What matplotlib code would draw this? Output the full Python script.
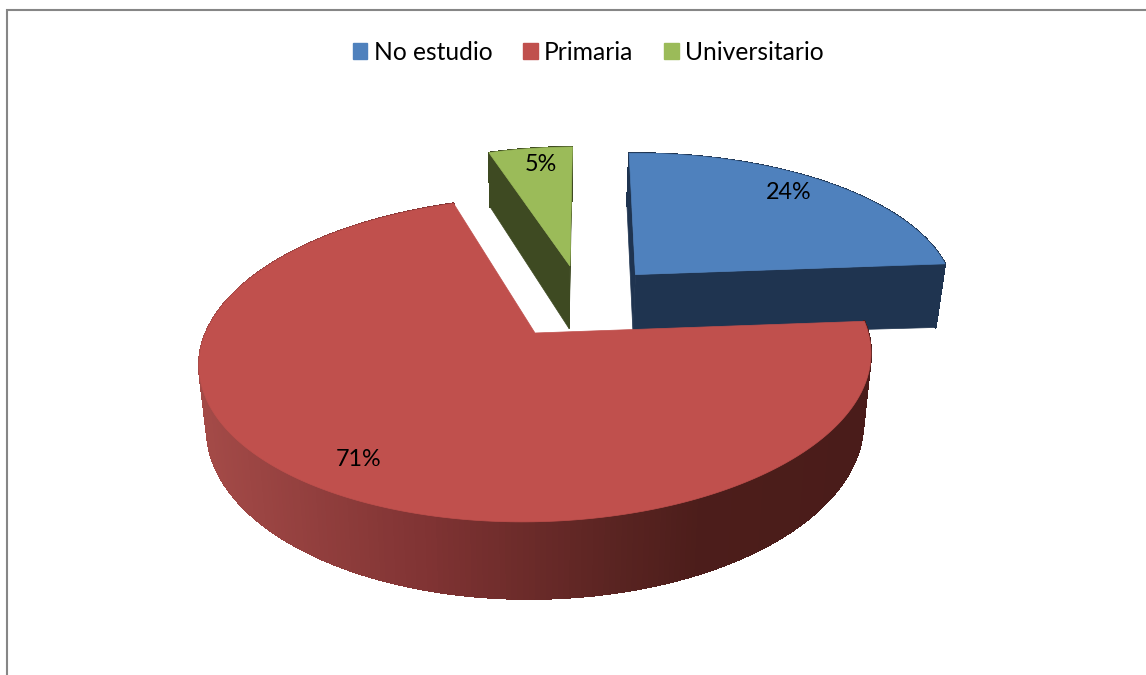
import numpy as np
import matplotlib
matplotlib.use('Agg')
import matplotlib.pyplot as plt
from matplotlib.collections import PolyCollection
from matplotlib.patches import Patch, Polygon, Rectangle

categories = ['No estudio', 'Primaria', 'Universitario']
values = [24, 71, 5]
colors = ['#4F81BD', '#C0504D', '#9BBB59']
side_colors = ['#1F3450', None, '#3E4A22']

# gradient of the red outer wall, x in pixels
wall_x = [205, 430, 620, 700, 865]
wall_rgb = [(0.64, 0.29, 0.28), (0.50, 0.20, 0.20), (0.35, 0.14, 0.13), (0.30, 0.115, 0.105), (0.29, 0.11, 0.10)]

plt.rcParams['font.family'] = ['Lato', 'DejaVu Sans']

# perspective of the 3d pie, fitted on the picture
cx, cy = 535, 333
a, b, k = 331.5, 158, 0.163
tilt_top, tilt_bottom = 6, 3
squeeze = 0.977
explode = 0.25
start = 1.5
depths = [64, 64.5, 67]
label_turn = [-2, -1.5, 1.2]


def top(x, y, depth=0):
    d = 1 + k * y
    return cx + a * x / d, cy - (b * y + tilt_top * x) / d


def bottom(x, y, depth=0):
    d = 1 + k * y
    return cx + squeeze * a * x / d, cy - (b * y + tilt_bottom * x) / d + depth / d


def face(fn, x, y, depth=0):
    px, py = fn(np.asarray(x, float), np.asarray(y, float), depth)
    return np.column_stack([px, py])


fig = plt.figure(figsize=(11.46, 6.75), dpi=100)
ax = fig.add_axes([0, 0, 1, 1])
ax.set_xlim(0, 1146)
ax.set_ylim(675, 0)
ax.axis('off')

# chart frame runs off the right and bottom of the image
ax.add_patch(Rectangle((6.5, 10), 1200, 700, fc='white', ec='#868686', lw=1.5))

fracs = np.array(values) / sum(values)
ends = np.cumsum(fracs) * 360 + start
starts = ends - fracs * 360
mids = np.radians((starts + ends) / 2)

# the big slice is the reference for the other offsets
ref = np.sin(mids[1]), np.cos(mids[1])

for i in [2, 0, 1]:
    ox = explode * (np.sin(mids[i]) - ref[0])
    oy = explode * (np.cos(mids[i]) - ref[1])
    th = np.radians(np.linspace(starts[i], ends[i], 300))
    rx = ox + np.sin(th)
    ry = oy + np.cos(th)

    if side_colors[i]:
        for j in [0, -1]:
            xs = [ox, rx[j]]
            ys = [oy, ry[j]]
            quad = np.vstack([face(top, xs, ys), face(bottom, xs, ys, depths[i])[::-1]])
            ax.add_patch(Polygon(quad, fc=side_colors[i], ec=side_colors[i], lw=0.5))

    t_pts = face(top, rx, ry)
    b_pts = face(bottom, rx, ry, depths[i])
    quads = [[t_pts[n], t_pts[n + 1], b_pts[n + 1], b_pts[n]] for n in range(len(th) - 1)]
    if side_colors[i]:
        wall = [side_colors[i]] * len(quads)
    else:
        mx = [q[0][0] for q in quads]
        wall = np.column_stack([np.interp(mx, wall_x, [c[n] for c in wall_rgb]) for n in range(3)])
    ax.add_collection(PolyCollection(quads, facecolors=wall, edgecolors=wall, linewidths=0.8, antialiaseds=False))

    surf = np.vstack([face(top, [ox], [oy]), t_pts])
    ax.add_patch(Polygon(surf, fc=colors[i], ec=colors[i], lw=0.5))

    turn = mids[i] + np.radians(label_turn[i])
    lx, ly = top(ox + 0.84 * np.sin(turn), oy + 0.84 * np.cos(turn))
    ax.text(lx, ly, str(values[i]) + '%', ha='center', va='center', fontsize=16.8, color='black')

handles = [Patch(fc=c, ec=c, label=n) for c, n in zip(colors, categories)]
ax.legend(handles=handles, loc='center', bbox_to_anchor=(588 / 1146, 1 - 52 / 675), ncol=3,
          frameon=False, fontsize=17.7, handlelength=0.6, handleheight=0.6, handletextpad=0.25,
          columnspacing=1.25, labelcolor='black', borderpad=0)

fig.savefig('out.png', dpi=100)
